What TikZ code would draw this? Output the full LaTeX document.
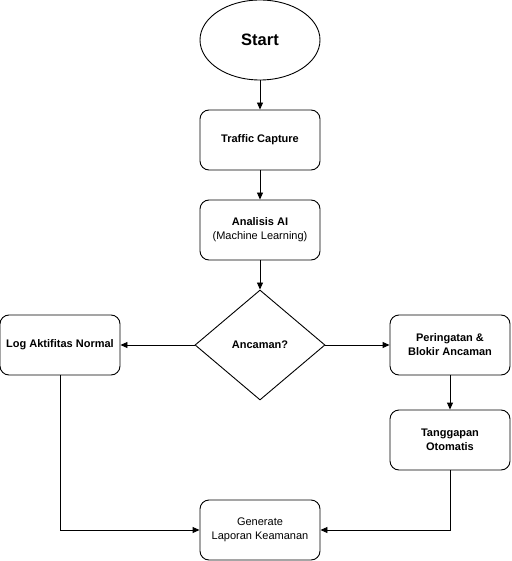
\documentclass[tikz,border=0pt]{standalone}
\usepackage{fontspec}
\setmainfont{Liberation Sans}
\usetikzlibrary{arrows.meta,shapes.geometric}
\begin{document}
\begin{tikzpicture}[x=1pt,y=-1pt,
  box/.style={draw=black,line width=0.9pt,rounded corners=9pt,minimum width=120pt,minimum height=60pt,inner sep=0pt,align=center,font=\fontsize{11}{14}\selectfont},
  conn/.style={draw=black,line width=0.9pt,-{Triangle[length=7pt,width=6pt]}},
  line/.style={draw=black,line width=0.9pt}]
\useasboundingbox (0,0) rectangle (511,561);
\node[draw=black,line width=0.9pt,ellipse,minimum width=120pt,minimum height=80pt,inner sep=0pt,font=\fontsize{16.5}{18}\selectfont\bfseries] (start) at (260,40) {Start};
\node[box,font=\fontsize{11}{14}\selectfont\bfseries] (tc) at (260,140) {Traffic Capture};
\node[box] (ai) at (260,230) {\textbf{Analisis AI}\\(Machine Learning)};
\node[draw=black,line width=0.9pt,diamond,minimum width=130pt,minimum height=110pt,inner sep=0pt,aspect=1.18,font=\fontsize{11}{14}\selectfont\bfseries] (dec) at (260,345) {Ancaman?};
\node[box,font=\fontsize{11}{14}\selectfont\bfseries] (log) at (60,345) {Log Aktifitas Normal};
\node[box,font=\fontsize{11}{14}\selectfont\bfseries] (per) at (450,345) {Peringatan \&\\Blokir Ancaman};
\node[box,font=\fontsize{11}{14}\selectfont\bfseries] (tan) at (450,440) {Tanggapan\\Otomatis};
\node[box] (gen) at (260,530) {Generate\\Laporan Keamanan};
\draw[conn] (start) -- (tc);
\draw[conn] (tc) -- (ai);
\draw[conn] (ai) -- (dec);
\draw[conn] (dec) -- (log);
\draw[conn] (dec) -- (per);
\draw[conn] (per) -- (tan);
\draw[conn] (log.south) |- (gen.west);
\draw[conn] (tan.south) |- (gen.east);
\end{tikzpicture}
\end{document}
